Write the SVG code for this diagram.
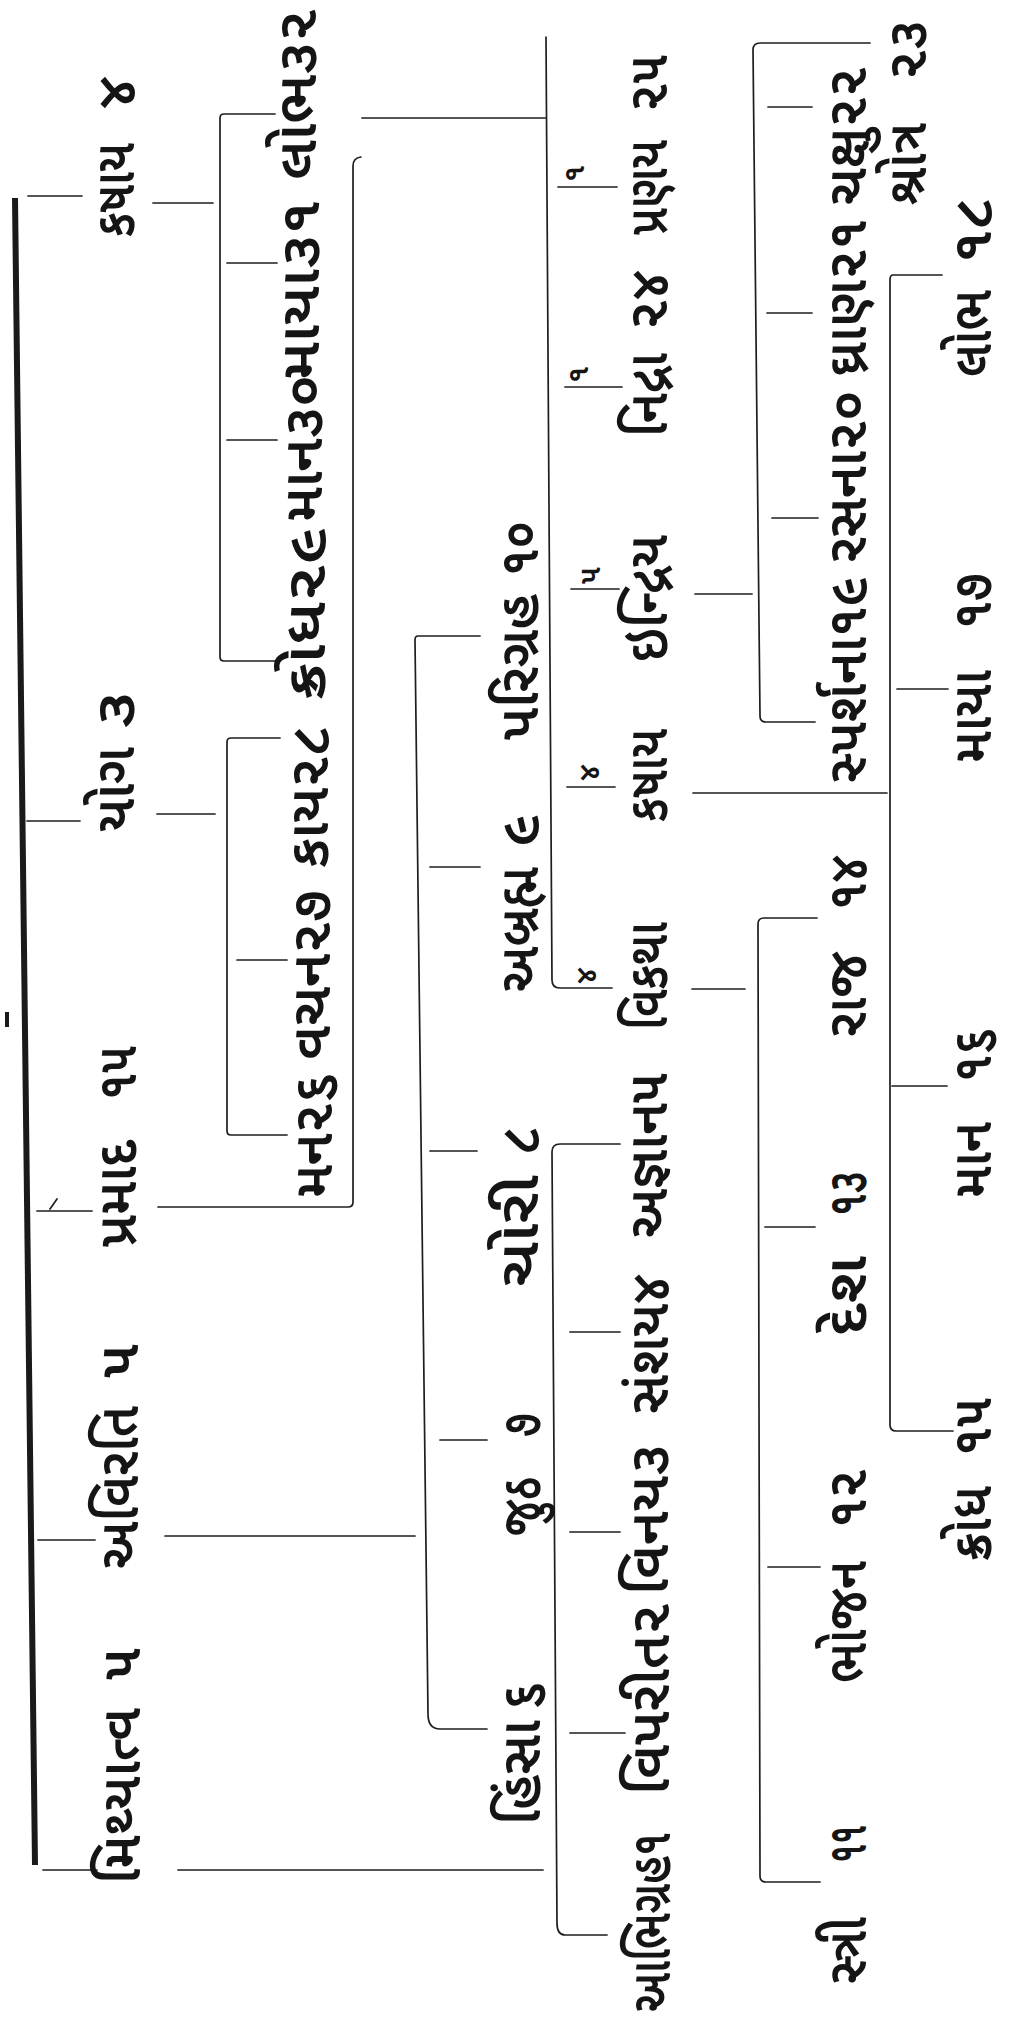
<svg xmlns="http://www.w3.org/2000/svg" width="1011" height="2017" viewBox="0 0 1011 2017">
<style>
.t{font-family:'Noto Sans Gujarati','Noto Serif Gujarati','Lohit Gujarati','Shruti','Noto Sans',sans-serif;font-size:56px;font-weight:600;fill:#151515}
.s{font-size:30px}
.ln{fill:none;stroke:#1e1e1e;stroke-width:1.7;stroke-linecap:round;stroke-linejoin:round}
.bar{stroke:#1a1a1a;stroke-width:6;fill:none}
</style>
<rect width="1011" height="2017" fill="#ffffff"/>
<g id="connectors">
<line class="bar" x1="15" y1="198" x2="35" y2="1865"/>
<rect x="5" y="1012" width="4" height="15" fill="#1a1a1a"/>
<path class="ln" d="M28,196 H82 M27,821 H80 M37,1211 H92 M57,1199 L50,1209 M38,1540 H95 M43,1870 H97"/>
<path class="ln" d="M153,203 H213 M275,114 H224 Q220,114 220,118 V657 Q220,661 224,661 H280 M227,263 H277 M227,440 H277"/>
<path class="ln" d="M157,814 H215 M280,738 H231 Q227,738 227,742 V1131 Q227,1135 231,1135 H287 M237,960 H287"/>
<path class="ln" d="M158,1207 H348 Q353,1207 353,1202 V166 Q353,158 361,157 M362,118 H545 M546,37 L552,980 Q552,988 560,988 H612 M558,187 H617 M565,387 H622 M571,589 H619 M567,787 H615"/>
<path class="ln" d="M165,1536 H415 M480,636 H418 Q415,636 415,640 L428,1714 Q428,1729 440,1729 H487 M430,867 H480 M430,1151 H477 M440,1440 H487"/>
<path class="ln" d="M178,1870 H543 M620,1144 H560 Q552,1144 552,1152 L557,1923 Q557,1935 565,1935 H607 M570,1332 H620 M570,1532 H620 M570,1733 H625"/>
<path class="ln" d="M695,594 H752 M870,43 H760 Q753,43 753,50 L760,716 Q760,722 766,722 H815 M768,107 H812 M767,313 H812 M772,518 H818"/>
<path class="ln" d="M692,989 H745 M817,918 H764 Q758,918 758,924 L760,1876 Q760,1882 766,1882 H820 M765,1227 H815 M768,1567 H820"/>
<path class="ln" d="M693,793 H887 M942,275 H893 Q890,275 890,280 V1425 Q890,1431 896,1431 H953 M897,689 H948 M892,1086 H947"/>
</g>
<g id="n-kashaya">
<text class="t" transform="translate(134,237) rotate(-90)" textLength="94" lengthAdjust="spacingAndGlyphs">કષાય</text>
<text class="t" transform="translate(134,109) rotate(-90)" textLength="33" lengthAdjust="spacingAndGlyphs">૪</text>
</g>
<g id="n-yoga">
<text class="t" transform="translate(134,832) rotate(-90)" textLength="85" lengthAdjust="spacingAndGlyphs">યોગ</text>
<text class="t" transform="translate(134,729) rotate(-90)" textLength="38" lengthAdjust="spacingAndGlyphs">૩</text>
</g>
<g id="n-pramad">
<text class="t" transform="translate(136,1247) rotate(-90)" textLength="107" lengthAdjust="spacingAndGlyphs">પ્રમાદ</text>
<text class="t" transform="translate(136,1100) rotate(-90)" textLength="54" lengthAdjust="spacingAndGlyphs">૧૫</text>
</g>
<g id="n-avirati">
<text class="t" transform="translate(138,1569) rotate(-90)" textLength="163" lengthAdjust="spacingAndGlyphs">અવિરતિ</text>
<text class="t" transform="translate(138,1378) rotate(-90)" textLength="34" lengthAdjust="spacingAndGlyphs">૫</text>
</g>
<g id="n-mithyatva">
<text class="t" transform="translate(140,1884) rotate(-90)" textLength="176" lengthAdjust="spacingAndGlyphs">મિથ્યાત્વ</text>
<text class="t" transform="translate(140,1680) rotate(-90)" textLength="32" lengthAdjust="spacingAndGlyphs">૫</text>
</g>
<g id="n-mana"><text class="t" transform="translate(332,1198) rotate(-90)" textLength="125" lengthAdjust="spacingAndGlyphs">મન૨૬</text></g>
<g id="n-vachan"><text class="t" transform="translate(330,1060) rotate(-90)" textLength="170" lengthAdjust="spacingAndGlyphs">વચન૨૭</text></g>
<g id="n-kaya"><text class="t" transform="translate(328,868) rotate(-90)" textLength="143" lengthAdjust="spacingAndGlyphs">કાય૨૮</text></g>
<g id="n-krodh29"><text class="t" transform="translate(325,700) rotate(-90)" textLength="173" lengthAdjust="spacingAndGlyphs">ક્રોધ૨૯</text></g>
<g id="n-maan30"><text class="t" transform="translate(322,522) rotate(-90)" textLength="147" lengthAdjust="spacingAndGlyphs">માન૩૦</text></g>
<g id="n-maya31"><text class="t" transform="translate(319,380) rotate(-90)" textLength="180" lengthAdjust="spacingAndGlyphs">માયા૩૧</text></g>
<g id="n-lobh32"><text class="t" transform="translate(316,180) rotate(-90)" textLength="171" lengthAdjust="spacingAndGlyphs">લોભ૩૨</text></g>
<g id="n-parigrah">
<text class="t" transform="translate(538,740) rotate(-90)" textLength="146" lengthAdjust="spacingAndGlyphs">પરિગ્રહ</text>
<text class="t" transform="translate(538,576) rotate(-90)" textLength="55" lengthAdjust="spacingAndGlyphs">૧૦</text>
</g>
<g id="n-abrahm">
<text class="t" transform="translate(538,992) rotate(-90)" textLength="125" lengthAdjust="spacingAndGlyphs">અબ્રહ્મ</text>
<text class="t" transform="translate(538,847) rotate(-90)" textLength="33" lengthAdjust="spacingAndGlyphs">૯</text>
</g>
<g id="n-chori">
<text class="t" transform="translate(538,1287) rotate(-90)" textLength="112" lengthAdjust="spacingAndGlyphs">ચોરી</text>
<text class="t" transform="translate(538,1155) rotate(-90)" textLength="29" lengthAdjust="spacingAndGlyphs">૮</text>
</g>
<g id="n-juth">
<text class="t" transform="translate(540,1536) rotate(-90)" textLength="59" lengthAdjust="spacingAndGlyphs">જુઠ</text>
<text class="t" transform="translate(540,1437) rotate(-90)" textLength="24" lengthAdjust="spacingAndGlyphs">૭</text>
</g>
<g id="n-hinsa">
<text class="t" transform="translate(540,1825) rotate(-90)" textLength="105" lengthAdjust="spacingAndGlyphs">હિંસા</text>
<text class="t" transform="translate(540,1710) rotate(-90)" textLength="28" lengthAdjust="spacingAndGlyphs">૬</text>
</g>
<g id="n-pranay">
<text class="t" transform="translate(667,235) rotate(-90)" textLength="95" lengthAdjust="spacingAndGlyphs">પ્રણય</text>
<text class="t" transform="translate(667,112) rotate(-90)" textLength="57" lengthAdjust="spacingAndGlyphs">૨૫</text>
<text class="t s" transform="translate(584,182) rotate(-90)">૧</text>
</g>
<g id="n-nidra">
<text class="t" transform="translate(667,437) rotate(-90)" textLength="84" lengthAdjust="spacingAndGlyphs">નિદ્રા</text>
<text class="t" transform="translate(667,330) rotate(-90)" textLength="60" lengthAdjust="spacingAndGlyphs">૨૪</text>
<text class="t s" transform="translate(588,383) rotate(-90)">૧</text>
</g>
<g id="n-indriya">
<text class="t" transform="translate(667,662) rotate(-90)" textLength="127" lengthAdjust="spacingAndGlyphs">ઇન્દ્રિય</text>
<text class="t s" transform="translate(600,584) rotate(-90)">૫</text>
</g>
<g id="n-kashaya2">
<text class="t" transform="translate(667,822) rotate(-90)" textLength="93" lengthAdjust="spacingAndGlyphs">કષાય</text>
<text class="t s" transform="translate(599,781) rotate(-90)">૪</text>
</g>
<g id="n-vikatha">
<text class="t" transform="translate(667,1030) rotate(-90)" textLength="108" lengthAdjust="spacingAndGlyphs">વિકથા</text>
<text class="t s" transform="translate(596,984) rotate(-90)">૪</text>
</g>
<g id="n-agyan"><text class="t" transform="translate(667,1238) rotate(-90)" textLength="165" lengthAdjust="spacingAndGlyphs">અજ્ઞાન૫</text></g>
<g id="n-sanshay"><text class="t" transform="translate(668,1414) rotate(-90)" textLength="140" lengthAdjust="spacingAndGlyphs">સંશય૪</text></g>
<g id="n-vinay"><text class="t" transform="translate(668,1595) rotate(-90)" textLength="151" lengthAdjust="spacingAndGlyphs">વિનય૩</text></g>
<g id="n-viparit"><text class="t" transform="translate(669,1795) rotate(-90)" textLength="192" lengthAdjust="spacingAndGlyphs">વિપરીત૨</text></g>
<g id="n-abhigrah"><text class="t" transform="translate(670,2012) rotate(-90)" textLength="180" lengthAdjust="spacingAndGlyphs">આભિગ્રહ૧</text></g>
<g id="n-indriya-items">
<text class="t" transform="translate(866,783) rotate(-90)" textLength="716" lengthAdjust="spacingAndGlyphs">સ્પર્શના૧૯ રસના૨૦ ઘ્રાણ૨૧ ચક્ષુ૨૨</text>
</g>
<g id="n-shrotra">
<text class="t" transform="translate(926,205) rotate(-90)" textLength="82" lengthAdjust="spacingAndGlyphs">શ્રોત્ર</text>
<text class="t" transform="translate(926,80) rotate(-90)" textLength="60" lengthAdjust="spacingAndGlyphs">૨૩</text>
</g>
<g id="n-raj">
<text class="t" transform="translate(866,1037) rotate(-90)" textLength="85" lengthAdjust="spacingAndGlyphs">રાજ</text>
<text class="t" transform="translate(866,910) rotate(-90)" textLength="55" lengthAdjust="spacingAndGlyphs">૧૪</text>
</g>
<g id="n-desh">
<text class="t" transform="translate(866,1336) rotate(-90)" textLength="80" lengthAdjust="spacingAndGlyphs">દેશ</text>
<text class="t" transform="translate(866,1216) rotate(-90)" textLength="45" lengthAdjust="spacingAndGlyphs">૧૩</text>
</g>
<g id="n-bhojan">
<text class="t" transform="translate(866,1683) rotate(-90)" textLength="122" lengthAdjust="spacingAndGlyphs">ભોજન</text>
<text class="t" transform="translate(866,1528) rotate(-90)" textLength="59" lengthAdjust="spacingAndGlyphs">૧૨</text>
</g>
<g id="n-stri">
<text class="t" transform="translate(866,1984) rotate(-90)" textLength="67" lengthAdjust="spacingAndGlyphs">સ્ત્રી</text>
<text class="t" transform="translate(866,1863) rotate(-90)" textLength="38" lengthAdjust="spacingAndGlyphs">૧૧</text>
</g>
<g id="n-lobh18">
<text class="t" transform="translate(991,377) rotate(-90)" textLength="87" lengthAdjust="spacingAndGlyphs">લોભ</text>
<text class="t" transform="translate(991,263) rotate(-90)" textLength="66" lengthAdjust="spacingAndGlyphs">૧૮</text>
</g>
<g id="n-maya17">
<text class="t" transform="translate(991,763) rotate(-90)" textLength="93" lengthAdjust="spacingAndGlyphs">માયા</text>
<text class="t" transform="translate(991,629) rotate(-90)" textLength="56" lengthAdjust="spacingAndGlyphs">૧૭</text>
</g>
<g id="n-maan16">
<text class="t" transform="translate(991,1198) rotate(-90)" textLength="76" lengthAdjust="spacingAndGlyphs">માન</text>
<text class="t" transform="translate(991,1082) rotate(-90)" textLength="54" lengthAdjust="spacingAndGlyphs">૧૬</text>
</g>
<g id="n-krodh15">
<text class="t" transform="translate(991,1561) rotate(-90)" textLength="75" lengthAdjust="spacingAndGlyphs">ક્રોધ</text>
<text class="t" transform="translate(991,1456) rotate(-90)" textLength="58" lengthAdjust="spacingAndGlyphs">૧૫</text>
</g>
</svg>
